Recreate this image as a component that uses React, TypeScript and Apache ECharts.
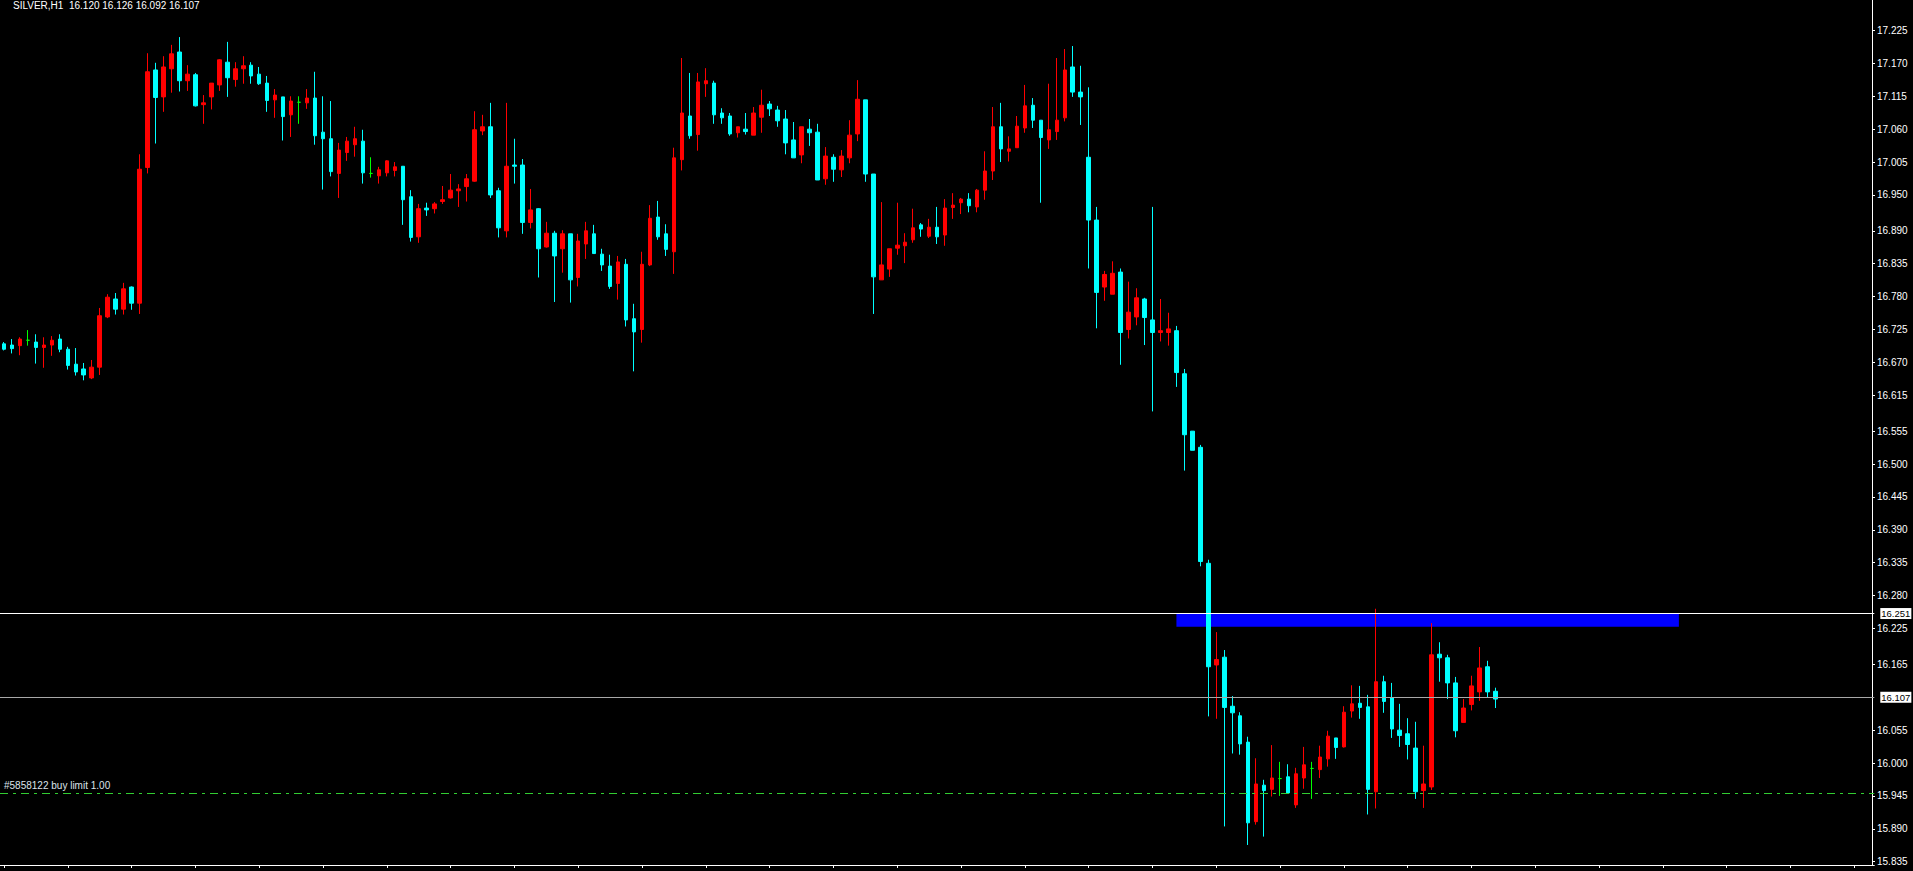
import React, { useEffect, useRef } from "react";
import * as echarts from "echarts";

const symbolName = "SILVER,H1";

const opens = [
  16.701, 16.699, 16.698, 16.707, 16.704, 16.695, 16.699, 16.709, 16.692, 16.667,
  16.659, 16.644, 16.662, 16.746, 16.776, 16.759, 16.796, 16.769, 16.996, 17.159,
  17.114, 17.161, 17.189, 17.141, 17.151, 17.101, 17.114, 17.134, 17.172, 17.143,
  17.161, 17.167, 17.152, 17.137, 17.109, 17.114, 17.084, 17.105, 17.104, 17.112,
  17.055, 17.044, 16.986, 17.021, 17.034, 17.040, 16.986, 16.982, 16.987, 16.991,
  16.998, 16.947, 16.880, 16.928, 16.927, 16.939, 16.945, 16.957, 16.964, 16.973,
  17.057, 17.064, 16.957, 16.890, 17.000, 17.000, 16.904, 16.927, 16.863, 16.886,
  16.860, 16.885, 16.812, 16.868, 16.885, 16.851, 16.831, 16.802, 16.834, 16.743,
  16.725, 16.833, 16.913, 16.885, 16.855, 17.009, 17.082, 17.051, 17.136, 17.137,
  17.087, 17.082, 17.054, 17.060, 17.050, 17.080, 17.102, 17.092, 17.077, 17.042,
  17.017, 17.060, 17.055, 16.977, 17.013, 16.992, 17.012, 17.052, 17.109, 16.985,
  16.808, 16.826, 16.861, 16.865, 16.875, 16.900, 16.881, 16.896, 16.883, 16.929,
  16.937, 16.943, 16.930, 16.958, 16.990, 17.064, 17.023, 17.029, 17.062, 17.100,
  17.075, 17.042, 17.056, 17.079, 17.164, 17.122, 17.013, 16.908, 16.796, 16.784,
  16.821, 16.725, 16.746, 16.776, 16.741, 16.720, 16.720, 16.723, 16.651, 16.555,
  16.528, 16.334, 16.164, 16.177, 16.095, 16.079, 16.035, 15.902, 15.963, 15.956,
  15.974, 15.977, 15.930, 15.975, 15.991, 15.989, 16.007, 16.042, 16.027, 16.087,
  16.100, 16.094, 15.952, 16.136, 16.109, 16.055, 16.049, 16.025, 15.954, 15.960,
  16.182, 16.176, 16.134, 16.068, 16.098, 16.119, 16.161, 16.120,
];

const highs = [
  16.704, 16.709, 16.712, 16.724, 16.717, 16.712, 16.714, 16.717, 16.696, 16.694,
  16.669, 16.674, 16.761, 16.784, 16.786, 16.803, 16.797, 17.018, 17.187, 17.171,
  17.182, 17.201, 17.214, 17.167, 17.154, 17.117, 17.137, 17.177, 17.206, 17.172,
  17.182, 17.172, 17.164, 17.149, 17.127, 17.114, 17.115, 17.115, 17.127, 17.156,
  17.115, 17.107, 17.037, 17.047, 17.064, 17.059, 17.013, 16.997, 17.008, 17.005,
  16.998, 16.958, 16.935, 16.937, 16.938, 16.965, 16.985, 16.968, 16.985, 17.090,
  17.084, 17.104, 16.962, 17.104, 17.044, 17.010, 16.960, 16.928, 16.905, 16.890,
  16.891, 16.885, 16.885, 16.905, 16.900, 16.860, 16.850, 16.848, 16.843, 16.768,
  16.855, 16.933, 16.940, 16.901, 17.029, 17.179, 17.154, 17.154, 17.162, 17.141,
  17.095, 17.087, 17.064, 17.087, 17.097, 17.126, 17.107, 17.099, 17.092, 17.072,
  17.064, 17.077, 17.069, 17.030, 17.018, 17.025, 17.075, 17.142, 17.109, 16.985,
  16.938, 16.860, 16.937, 16.886, 16.927, 16.903, 16.910, 16.930, 16.943, 16.953,
  16.945, 16.953, 16.960, 17.023, 17.097, 17.104, 17.048, 17.082, 17.134, 17.112,
  17.075, 17.136, 17.179, 17.194, 17.199, 17.166, 17.130, 16.930, 16.823, 16.839,
  16.827, 16.805, 16.794, 16.778, 16.930, 16.776, 16.753, 16.731, 16.659, 16.555,
  16.532, 16.340, 16.219, 16.189, 16.112, 16.085, 16.044, 16.008, 15.972, 16.030,
  16.002, 15.998, 15.992, 16.027, 16.002, 16.029, 16.054, 16.042, 16.095, 16.130,
  16.129, 16.114, 16.258, 16.146, 16.134, 16.099, 16.075, 16.069, 16.029, 16.234,
  16.202, 16.181, 16.144, 16.107, 16.146, 16.194, 16.171, 16.126,
];

const lows = [
  16.690, 16.685, 16.682, 16.698, 16.668, 16.661, 16.681, 16.687, 16.658, 16.648,
  16.640, 16.642, 16.649, 16.744, 16.750, 16.750, 16.758, 16.751, 16.986, 17.036,
  17.089, 17.121, 17.123, 17.124, 17.098, 17.069, 17.093, 17.124, 17.114, 17.131,
  17.136, 17.136, 17.134, 17.089, 17.079, 17.041, 17.047, 17.069, 17.094, 17.034,
  16.959, 16.981, 16.945, 17.007, 17.014, 16.969, 16.979, 16.969, 16.981, 16.981,
  16.900, 16.872, 16.870, 16.915, 16.919, 16.935, 16.944, 16.930, 16.939, 16.972,
  17.050, 16.945, 16.879, 16.879, 16.969, 16.885, 16.894, 16.812, 16.862, 16.771,
  16.820, 16.770, 16.797, 16.843, 16.852, 16.823, 16.793, 16.775, 16.730, 16.655,
  16.703, 16.831, 16.875, 16.848, 16.818, 16.991, 17.044, 17.024, 17.114, 17.069,
  17.069, 17.049, 17.046, 17.051, 17.050, 17.054, 17.082, 17.064, 17.018, 17.012,
  17.003, 17.032, 16.975, 16.967, 16.972, 16.980, 17.003, 17.040, 16.972, 16.751,
  16.808, 16.813, 16.850, 16.836, 16.870, 16.880, 16.878, 16.868, 16.865, 16.910,
  16.918, 16.921, 16.921, 16.942, 16.975, 17.005, 17.006, 17.029, 17.054, 17.062,
  16.937, 17.027, 17.042, 17.073, 17.114, 17.067, 16.827, 16.727, 16.773, 16.784,
  16.666, 16.710, 16.732, 16.699, 16.588, 16.705, 16.698, 16.629, 16.489, 16.523,
  16.329, 16.078, 16.074, 15.894, 16.016, 16.014, 15.863, 15.897, 15.877, 15.944,
  15.945, 15.949, 15.925, 15.957, 15.940, 15.975, 15.994, 16.007, 16.026, 16.076,
  16.074, 15.914, 15.924, 16.084, 16.042, 16.027, 16.006, 15.940, 15.925, 15.955,
  16.136, 16.107, 16.043, 16.068, 16.088, 16.104, 16.109, 16.092,
];

const closes = [
  16.692, 16.693, 16.709, 16.707, 16.695, 16.699, 16.707, 16.692, 16.665, 16.654,
  16.649, 16.662, 16.748, 16.779, 16.759, 16.793, 16.769, 16.993, 17.156, 17.113,
  17.164, 17.186, 17.141, 17.152, 17.099, 17.104, 17.137, 17.176, 17.146, 17.161,
  17.166, 17.149, 17.136, 17.108, 17.117, 17.081, 17.107, 17.105, 17.112, 17.049,
  17.044, 16.989, 17.025, 17.040, 17.044, 16.987, 16.986, 16.992, 17.007, 16.997,
  16.942, 16.879, 16.927, 16.925, 16.935, 16.942, 16.958, 16.960, 16.977, 17.059,
  17.064, 16.950, 16.895, 16.998, 16.998, 16.904, 16.925, 16.860, 16.886, 16.848,
  16.885, 16.808, 16.873, 16.890, 16.852, 16.833, 16.797, 16.838, 16.741, 16.721,
  16.834, 16.911, 16.880, 16.859, 17.012, 17.087, 17.049, 17.139, 17.141, 17.084,
  17.079, 17.052, 17.064, 17.056, 17.087, 17.100, 17.094, 17.074, 17.037, 17.012,
  17.064, 17.054, 16.975, 17.015, 16.993, 17.015, 17.050, 17.110, 16.985, 16.813,
  16.833, 16.860, 16.866, 16.871, 16.895, 16.893, 16.896, 16.880, 16.928, 16.933,
  16.943, 16.932, 16.958, 16.990, 17.064, 17.027, 17.027, 17.065, 17.099, 17.075,
  17.046, 17.059, 17.075, 17.159, 17.122, 17.114, 16.908, 16.787, 16.817, 16.819,
  16.720, 16.754, 16.778, 16.745, 16.720, 16.723, 16.726, 16.653, 16.549, 16.523,
  16.337, 16.161, 16.173, 16.093, 16.084, 16.032, 15.900, 15.965, 15.954, 15.975,
  15.974, 15.950, 15.982, 15.997, 15.991, 16.010, 16.045, 16.026, 16.085, 16.099,
  16.093, 15.956, 16.136, 16.103, 16.057, 16.046, 16.031, 15.952, 15.965, 16.181,
  16.176, 16.134, 16.054, 16.092, 16.129, 16.159, 16.119, 16.107,
];

const yTicks = [
  17.225, 17.17, 17.115, 17.06, 17.005, 16.95, 16.89, 16.835, 16.78, 16.725,
  16.67, 16.615, 16.555, 16.5, 16.445, 16.39, 16.335, 16.28, 16.225, 16.165,
  16.055, 16.0, 15.945, 15.89, 15.835,
];

const resistanceLevel = 16.251;
const bidLevel = 16.107;
const buyLimitLevel = 15.95;
const buyLimitText = "#5858122 buy limit 1.00";
const zoneTop = 16.251;
const zoneBottom = 16.228;
const zoneStartBar = 147;
const zoneEndBar = 210;
const totalSlots = 235;
const yMin = 15.8295;
const yMax = 17.276;
const tickEvery = 8;

const FONT = "Liberation Sans, Arial, sans-serif";

export default function App() {
  const ref = useRef<HTMLDivElement>(null);

  useEffect(() => {
    const chart = echarts.init(ref.current as HTMLDivElement, null, { renderer: "svg" });
    const categories = Array.from({ length: totalSlots }, (_, k) => String(k));
    const data = opens.map((o, k) => [o, closes[k], lows[k], highs[k]]);
    const last = opens.length - 1;
    const title = `${symbolName}  ${opens[last].toFixed(3)} ${highs[last].toFixed(3)} ${lows[last].toFixed(3)} ${closes[last].toFixed(3)}`;

    const priceLabel = (txt: string) => ({
      show: true,
      position: "end",
      formatter: txt,
      color: "#000",
      backgroundColor: "#fff",
      fontFamily: FONT,
      fontSize: 9.5,
      padding: [1, 1, 0, 1],
      distance: 6,
    });

    chart.setOption({
      animation: false,
      backgroundColor: "#000",
      grid: { left: -5.7, right: 38.7, top: 0, bottom: 6, containLabel: false },
      xAxis: {
        type: "category",
        data: categories,
        boundaryGap: true,
        axisLine: { show: true, lineStyle: { color: "#fff", width: 1 } },
        axisTick: {
          show: true,
          alignWithLabel: true,
          length: 3,
          interval: (index: number) => index % tickEvery === 0,
          lineStyle: { color: "#fff" },
        },
        axisLabel: { show: false },
        splitLine: { show: false },
      },
      yAxis: {
        type: "value",
        position: "right",
        offset: -2.3,
        min: yMin,
        max: yMax,
        scale: true,
        axisLine: { show: true, lineStyle: { color: "#fff", width: 1 } },
        axisTick: { show: true, length: 3, customValues: yTicks, lineStyle: { color: "#fff" } },
        axisLabel: {
          show: true,
          customValues: yTicks,
          color: "#fff",
          fontFamily: FONT,
          fontSize: 10,
          margin: 5,
          formatter: (v: number) => v.toFixed(3),
        },
        splitLine: { show: false },
      },
      graphic: [
        {
          type: "text",
          left: 13,
          top: 0,
          style: { text: title, fill: "#fff", font: `10px ${FONT}` },
        },
      ],
      series: [
        {
          type: "candlestick",
          data,
          barWidth: 4,
          itemStyle: {
            color: "#ff0000",
            color0: "#00ffff",
            borderColor: "#ff0000",
            borderColor0: "#00ffff",
            borderColorDoji: "#00ff00",
            borderWidth: 1,
          },
          markArea: {
            silent: true,
            itemStyle: { color: "#0000ff", opacity: 1 },
            data: [
              [
                { xAxis: String(zoneStartBar), yAxis: zoneTop },
                { xAxis: String(zoneEndBar), yAxis: zoneBottom },
              ],
            ],
          },
          markLine: {
            silent: true,
            symbol: ["none", "none"],
            data: [
              {
                yAxis: resistanceLevel,
                lineStyle: { color: "#ffffff", type: "solid", width: 1 },
                label: priceLabel(resistanceLevel.toFixed(3)),
              },
              {
                yAxis: bidLevel,
                lineStyle: { color: "#a8a8a8", type: "solid", width: 1 },
                label: priceLabel(bidLevel.toFixed(3)),
              },
              {
                yAxis: buyLimitLevel,
                lineStyle: { color: "#32cd32", type: [8, 5, 3, 5], width: 1 },
                label: {
                  show: true,
                  position: "insideStartTop",
                  formatter: buyLimitText,
                  color: "#dde3ea",
                  fontFamily: FONT,
                  fontSize: 10,
                  distance: [4, 2],
                },
              },
            ],
          },
        },
      ],
    });

    return () => chart.dispose();
  }, []);

  return (
    <div
      ref={ref}
      style={{ position: "fixed", left: 0, top: 0, width: 1913, height: 871, background: "#000" }}
    />
  );
}
